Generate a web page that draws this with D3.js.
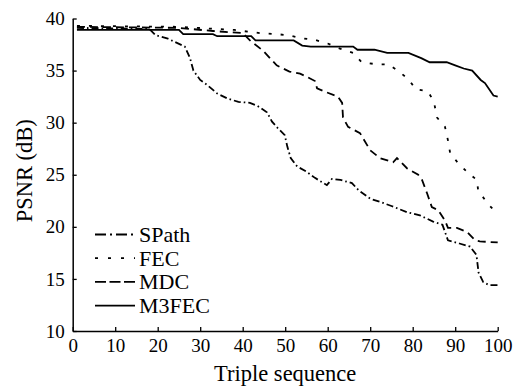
<!DOCTYPE html>
<html>
<head>
<meta charset="utf-8">
<script src="https://cdn.jsdelivr.net/npm/d3@7"></script>
</head>
<body style="margin:0">
<svg id="chart" width="526" height="387" style="display:block"></svg>
<script>
// ---- data ----
const xTicks = [0, 10, 20, 30, 40, 50, 60, 70, 80, 90, 100];
const yTicks = [10, 15, 20, 25, 30, 35, 40];

const seriesNames = ["SPath", "FEC", "MDC", "M3FEC"];

const spathX = [1, 18, 19.5, 22.2, 26.4, 27.6, 28.4, 30, 31.7, 34, 36.5, 39, 41.7, 43.5, 45.7, 46.9, 48.2, 49.9, 50.5, 51.3, 52.8, 55, 57, 59.8, 61, 63, 65.7, 67.3, 70, 72.3, 75, 78.7, 81.7, 84.8, 87, 88.3, 91, 93.5, 95, 95.5, 96.6, 98, 100];
const spathY = [39.1, 39.0, 38.4, 38.1, 37.3, 36.2, 35.0, 34.1, 33.6, 32.8, 32.3, 32.0, 31.9, 31.6, 31.0, 30.1, 29.5, 28.8, 27.7, 26.6, 25.8, 25.3, 24.7, 24.0, 24.6, 24.5, 24.2, 23.5, 22.7, 22.4, 22.0, 21.4, 21.1, 20.5, 20.2, 18.7, 18.4, 18.1, 17.3, 15.6, 14.7, 14.4, 14.4];

const fecX = [1, 25, 38, 44, 48, 50.6, 54, 57, 60, 62.9, 66, 68, 71.6, 74.2, 76.5, 78.9, 80.8, 83.6, 85, 85.7, 87.6, 88.3, 88.8, 90.7, 93, 95.1, 95.4, 97.5, 100];
const fecY = [39.3, 39.2, 38.9, 38.6, 38.5, 38.4, 38.1, 37.95, 37.6, 37.1, 36.7, 35.8, 35.6, 35.6, 35.0, 34.2, 33.2, 33.0, 32.0, 30.5, 29.6, 28.3, 27.1, 26.1, 25.2, 24.5, 23.5, 22.3, 21.2];

const mdcX = [1, 25, 33, 40, 41.7, 44.8, 48, 51, 53.5, 55.1, 57, 57.5, 59.8, 62.4, 63.4, 63.6, 64.8, 67.6, 70, 72.3, 75.4, 76.3, 78.7, 81.3, 82.2, 83.4, 84.5, 86, 87.6, 88.3, 90.4, 92.8, 94.7, 95.8, 100];
const mdcY = [39.2, 39.1, 38.8, 38.6, 37.9, 36.9, 35.5, 34.9, 34.7, 34.4, 34.0, 33.3, 32.9, 32.5, 31.9, 30.5, 29.6, 29.0, 27.35, 26.6, 26.2, 26.6, 25.6, 25.0, 24.5, 23.2, 21.9, 21.6, 20.6, 19.9, 19.9, 19.5, 18.7, 18.6, 18.5];

const m3fecX = [1, 25, 26, 33, 34, 42, 43, 52, 54, 56, 66, 67, 71, 74, 79, 82, 84, 88, 90, 92, 94, 96, 97, 99, 100];
const m3fecY = [38.9, 38.9, 38.5, 38.5, 38.3, 38.3, 37.9, 37.9, 37.4, 37.3, 37.3, 37.0, 37.0, 36.7, 36.7, 36.2, 35.8, 35.8, 35.5, 35.2, 35.0, 34.1, 33.8, 32.6, 32.5];

// ---- chart ----
const FONT = '"Liberation Serif", "Times New Roman", serif';
const svg = d3.select("#chart");
const plotLeft = 72.7, plotRight = 497.7, plotTop = 18.5, plotBottom = 331;

const x = d3.scaleLinear().domain([0, 100]).range([plotLeft, plotRight]);
const y = d3.scaleLinear().domain([10, 40]).range([plotBottom, plotTop]);

const styles = {
  "SPath": { dash: "7,3,1.6,3", legendDash: "11,4,2,4" },
  "FEC":   { dash: "3,9",        legendDash: "3,10" },
  "MDC":   { dash: "8,5",        legendDash: "11,3.5" },
  "M3FEC": { dash: null,         legendDash: null }
};

const seriesData = [
  { name: "SPath", xs: spathX, ys: spathY },
  { name: "FEC",   xs: fecX,   ys: fecY },
  { name: "MDC",   xs: mdcX,   ys: mdcY },
  { name: "M3FEC", xs: m3fecX, ys: m3fecY }
];

const line = d3.line().x(d => x(d[0])).y(d => y(d[1]));

svg.append("g").selectAll("path")
  .data(seriesData)
  .join("path")
  .attr("d", s => line(s.xs.map((v, i) => [v, s.ys[i]])))
  .attr("fill", "none")
  .attr("stroke", "#000")
  .attr("stroke-width", 1.8)
  .attr("stroke-dasharray", s => styles[s.name].dash);

// axes
const xAxis = d3.axisBottom(x).tickValues(xTicks).tickSizeInner(-4).tickSizeOuter(0).tickPadding(8).tickFormat(d3.format("d"));
const yAxis = d3.axisLeft(y).tickValues(yTicks).tickSizeInner(-4).tickSizeOuter(0).tickPadding(8).tickFormat(d3.format("d"));

const gx = svg.append("g").attr("transform", `translate(0,${plotBottom})`).call(xAxis);
const gy = svg.append("g").attr("transform", `translate(${plotLeft},0)`).call(yAxis);

[gx, gy].forEach(g => {
  g.attr("font-family", FONT).attr("font-size", 19);
  g.select(".domain").attr("stroke", "#000").attr("stroke-width", 1.5);
  g.selectAll(".tick line").attr("stroke", "#000").attr("stroke-width", 1.3);
  g.selectAll(".tick text")
    .style("font-family", FONT)
    .style("font-size", "19px")
    .attr("fill", "#000");
});

// axis titles
svg.append("text")
  .attr("x", (plotLeft + plotRight) / 2)
  .attr("y", 381)
  .attr("text-anchor", "middle")
  .style("font-family", FONT)
  .style("font-size", "22.5px")
  .attr("fill", "#000")
  .text("Triple sequence");

svg.append("text")
  .attr("transform", `translate(32,${(plotTop + plotBottom) / 2 - 4}) rotate(-90)`)
  .attr("text-anchor", "middle")
  .style("font-family", FONT)
  .style("font-size", "22.5px")
  .attr("fill", "#000")
  .text("PSNR (dB)");

// legend
const legend = svg.append("g");
seriesNames.forEach((name, i) => {
  const cy = 234.5 + i * 23.7;
  legend.append("line")
    .attr("x1", 95).attr("x2", 135)
    .attr("y1", cy).attr("y2", cy)
    .attr("stroke", "#000")
    .attr("stroke-width", 1.8)
    .attr("stroke-dasharray", styles[name].legendDash);
  legend.append("text")
    .attr("x", 139)
    .attr("y", cy + 7.5)
    .style("font-family", FONT)
    .style("font-size", "22px")
    .attr("fill", "#000")
    .text(name);
});
</script>
</body>
</html>
